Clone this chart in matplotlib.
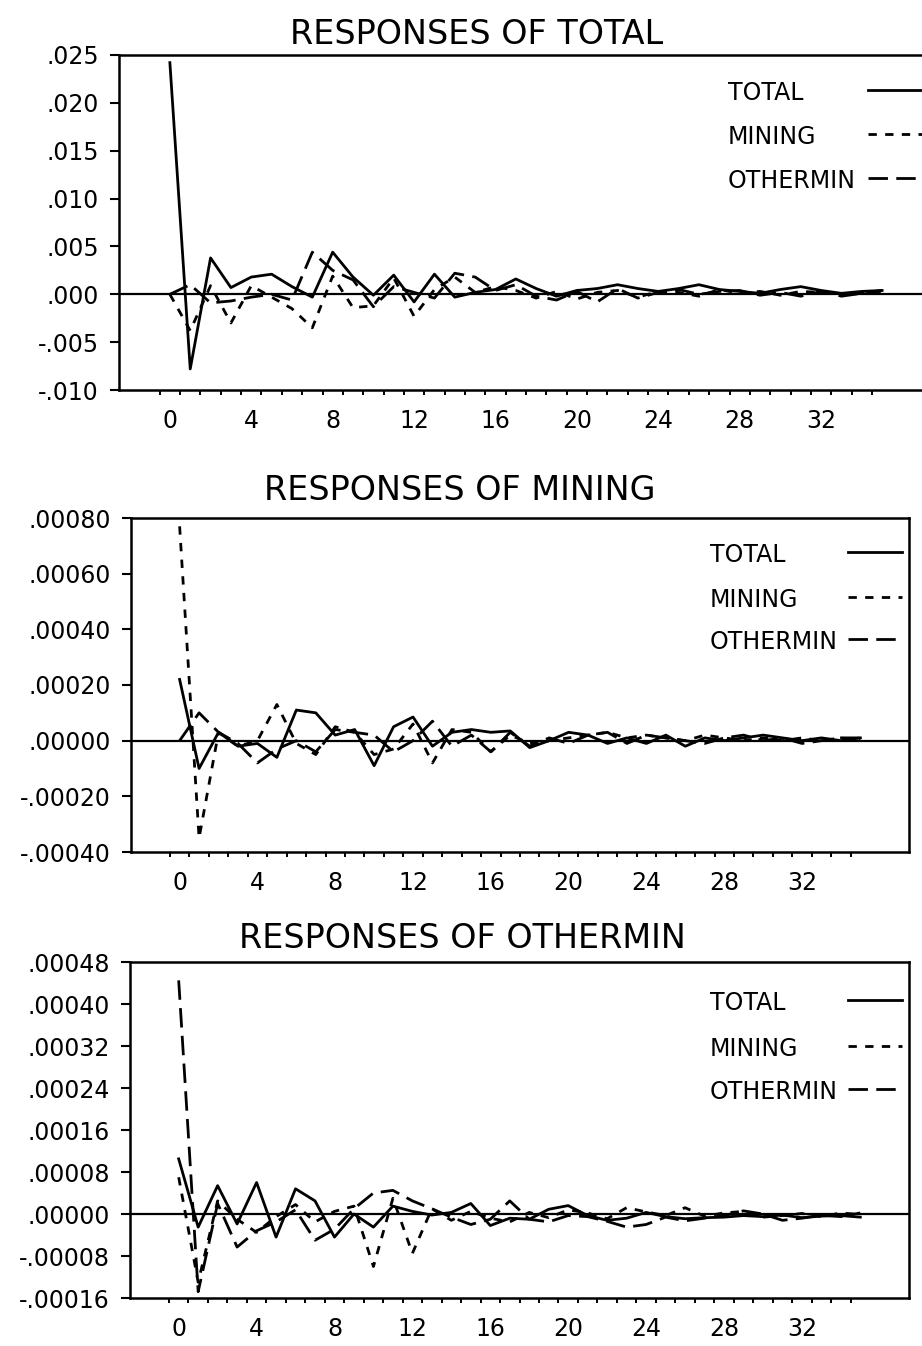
import numpy as np
import matplotlib
matplotlib.use("Agg")
import matplotlib.pyplot as plt
from matplotlib.lines import Line2D
from matplotlib.ticker import FixedLocator

W, H = 922, 1346

steps = np.arange(36)
series_names = ["TOTAL", "MINING", "OTHERMIN"]
x_tick_pos = [0, 4, 8, 12, 16, 20, 24, 28, 32]

# responses of TOTAL, in units of 1e-3
total_to_total = [24.2, -7.8, 3.8, 0.7, 1.8, 2.1, 0.8, -0.3, 4.4, 1.8, -0.1, 2.0,
                  -0.8, 2.1, -0.3, 0.2, 0.5, 1.6, 0.6, -0.2, 0.4, 0.6, 1.0, 0.6,
                  0.3, 0.6, 1.0, 0.5, 0.3, 0.1, 0.5, 0.8, 0.4, 0.1, 0.3, 0.4]
total_to_mining = [0.0, -3.8, 0.9, -3.0, 0.9, -0.3, -1.5, -3.5, 1.9, -1.4, -1.2, 1.7,
                   -2.3, 0.5, 1.8, 0.2, 0.8, 0.4, -0.4, 0.3, -0.5, 0.2, 0.4, -0.3,
                   0.3, 0.2, -0.2, 0.5, 0.1, 0.3, -0.1, 0.3, 0.2, 0.0, 0.2, 0.3]
total_to_othermin = [0.0, 1.0, -0.9, -0.7, -0.3, 0.0, -0.6, 4.4, 2.5, 1.5, -1.3, 0.8,
                     0.2, -0.4, 2.2, 1.8, 0.4, 1.0, -0.2, -0.6, 0.3, -0.8, 0.6, -0.4,
                     0.2, 0.5, 0.0, 0.3, 0.4, -0.1, 0.2, -0.2, 0.3, -0.2, 0.1, 0.4]
total_yticks = [-0.010, -0.005, 0.0, 0.005, 0.010, 0.015, 0.020, 0.025]
total_ylabels = ["-.010", "-.005", ".000", ".005", ".010", ".015", ".020", ".025"]

# responses of MINING, in units of 1e-4
mining_to_total = [2.2, -1.0, 0.3, -0.2, -0.1, -0.6, 1.1, 1.0, 0.2, 0.4, -0.9, 0.5,
                   0.85, -0.2, 0.3, 0.4, 0.3, 0.35, -0.25, 0.0, 0.3, 0.2, -0.1, 0.1,
                   -0.1, 0.2, -0.2, 0.1, 0.0, 0.1, 0.2, 0.1, 0.0, 0.1, 0.0, 0.1]
mining_to_mining = [7.7, -3.5, 0.3, -0.2, 0.0, 1.3, -0.1, -0.5, 0.5, 0.3, -0.5, -0.3,
                    0.6, -0.8, 0.4, 0.3, -0.4, 0.2, -0.1, 0.0, 0.1, 0.2, 0.3, 0.1,
                    0.2, 0.1, 0.0, 0.2, 0.1, 0.0, 0.1, 0.0, 0.1, 0.0, 0.1, 0.0]
mining_to_othermin = [0.0, 1.0, 0.3, -0.1, -0.8, -0.3, 0.0, -0.4, 0.4, 0.3, 0.2, -0.4,
                      0.0, 0.7, -0.2, 0.2, -0.4, 0.3, -0.2, 0.1, -0.1, 0.2, 0.3, -0.1,
                      0.2, 0.1, 0.0, -0.1, 0.1, 0.2, 0.0, 0.1, -0.1, 0.0, 0.1, 0.1]
mining_yticks = [-0.0004, -0.0002, 0.0, 0.0002, 0.0004, 0.0006, 0.0008]
mining_ylabels = ["-.00040", "-.00020", ".00000", ".00020", ".00040", ".00060", ".00080"]

# responses of OTHERMIN, in units of 1e-5
othermin_to_total = [10.5, -2.5, 5.4, -1.9, 6.0, -4.4, 4.8, 2.5, -4.4, 0.0, -2.5, 1.5,
                     0.5, -0.2, 0.3, 2.0, -2.2, -0.8, -1.0, 0.9, 1.6, -0.3, -1.2, -0.8,
                     0.3, -0.5, -0.9, -0.7, -0.6, -0.3, -0.5, -0.2, -0.7, -0.4, -0.3, -0.6]
othermin_to_mining = [7.0, -13.0, 2.5, -1.0, -3.5, -0.5, 1.8, -1.5, 0.5, 1.5, -10.0, 3.0,
                      -7.5, 1.0, -1.2, 0.5, -0.8, -1.5, 0.3, -0.7, 0.8, 0.2, -0.9, 1.2,
                      0.4, -0.3, 1.2, -0.4, 0.2, 0.5, -0.6, -0.3, 0.1, -0.5, 0.2, -0.1]
othermin_to_othermin = [44.5, -14.8, 2.0, -6.3, -3.2, -1.5, 0.8, -5.0, -2.9, 1.0, 4.0, 4.5,
                        2.5, 1.0, -0.6, -2.0, -1.0, 2.5, -1.0, -1.5, -0.3, -0.5, -1.4, -2.5,
                        -2.0, -0.6, -1.3, -0.8, -0.3, 0.6, 0.0, -1.2, -0.8, -0.2, -0.5, 0.2]
othermin_yticks = [-0.00016, -0.00008, 0.0, 0.00008, 0.00016, 0.00024, 0.00032, 0.00040, 0.00048]
othermin_ylabels = ["-.00016", "-.00008", ".00000", ".00008", ".00016", ".00024",
                    ".00032", ".00040", ".00048"]

plt.rcParams["font.family"] = ["DejaVu Sans"]
plt.rcParams["lines.scale_dashes"] = False

STYLES = {
    "TOTAL": dict(linestyle="-"),
    "MINING": dict(linestyle=(0, (6, 6))),
    "OTHERMIN": dict(linestyle=(0, (14, 6))),
}

panels = [
    dict(title="RESPONSES OF TOTAL", box=(119, 55, 933, 390), title_xy=(477, 35),
         scale=1e-3, series=[total_to_total, total_to_mining, total_to_othermin],
         yticks=total_yticks, ylabels=total_ylabels, ylim=(-0.010, 0.025),
         leg_x=728, leg_rows=(93, 137, 181), leg_line=(868, 930)),
    dict(title="RESPONSES OF MINING", box=(131, 518, 909, 852), title_xy=(460, 490),
         scale=1e-4, series=[mining_to_total, mining_to_mining, mining_to_othermin],
         yticks=mining_yticks, ylabels=mining_ylabels, ylim=(-0.0004, 0.0008),
         leg_x=710, leg_rows=(555, 600, 642), leg_line=(848, 902)),
    dict(title="RESPONSES OF OTHERMIN", box=(130, 962, 909, 1298), title_xy=(462, 938),
         scale=1e-5, series=[othermin_to_total, othermin_to_mining, othermin_to_othermin],
         yticks=othermin_yticks, ylabels=othermin_ylabels, ylim=(-0.00016, 0.00048),
         leg_x=710, leg_rows=(1003, 1049, 1092), leg_line=(848, 902)),
]


def fx(x):
    return x / W


def fy(y):
    return 1 - y / H


fig = plt.figure(figsize=(W / 100, H / 100), dpi=100)

for p in panels:
    l, t, r, b = p["box"]
    ax = fig.add_axes([fx(l), fy(b), (r - l) / W, (b - t) / H])
    for name, vals in zip(series_names, p["series"]):
        ax.plot(steps, np.array(vals) * p["scale"], color="black", lw=2.0,
                **STYLES[name])
    ax.axhline(0, color="black", lw=1.6)
    ax.set_xlim(-2.5, 37.5)
    ax.set_ylim(*p["ylim"])

    ax.yaxis.set_major_locator(FixedLocator(p["yticks"]))
    ax.set_yticklabels(p["ylabels"])
    ax.xaxis.set_major_locator(FixedLocator(x_tick_pos))
    ax.set_xticklabels([str(v) for v in x_tick_pos])
    ax.xaxis.set_minor_locator(FixedLocator(np.arange(36) - 0.5))
    ax.tick_params(axis="y", direction="out", length=6.5, width=1.5, pad=8,
                   labelsize=17)
    ax.tick_params(axis="x", which="major", length=0, pad=14, labelsize=17)
    ax.tick_params(axis="x", which="minor", direction="out", length=3.8, width=1.4)
    for s in ax.spines.values():
        s.set_linewidth(1.8)

    fig.text(fx(p["title_xy"][0]), fy(p["title_xy"][1]), p["title"],
             ha="center", va="center", fontsize=24)

    x0, x1 = p["leg_line"]
    for name, ry in zip(series_names, p["leg_rows"]):
        fig.text(fx(p["leg_x"]), fy(ry), name, ha="left", va="center", fontsize=17)
        fig.add_artist(Line2D([fx(x0), fx(x1)], [fy(ry - 3)] * 2,
                              transform=fig.transFigure, color="black", lw=2.0,
                              **STYLES[name]))

fig.savefig("out.png", dpi=100)
